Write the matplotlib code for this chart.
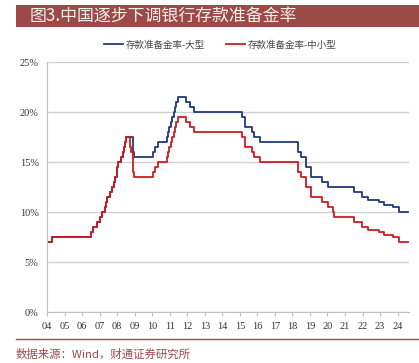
import matplotlib
matplotlib.use("Agg")
import numpy as np
from matplotlib import pyplot as plt
from matplotlib.patches import Rectangle
from matplotlib.lines import Line2D

# adjustment dates (decimal years) and ratios after each change, %
large_dates = [2004.0, 2004.31, 2006.51, 2006.62, 2006.87, 2007.04, 2007.15, 2007.29, 2007.37,
               2007.43, 2007.62, 2007.73, 2007.81, 2007.90, 2007.98, 2008.07, 2008.23, 2008.31,
               2008.38, 2008.45, 2008.48, 2008.79, 2008.93, 2008.98, 2010.05, 2010.15, 2010.36,
               2010.87, 2010.91, 2010.97, 2011.05, 2011.15, 2011.23, 2011.30, 2011.38, 2011.47,
               2011.93, 2012.15, 2012.38, 2015.10, 2015.30, 2015.68, 2015.81, 2016.16, 2018.31,
               2018.51, 2018.79, 2019.04, 2019.07, 2019.71, 2020.01, 2021.54, 2021.95, 2022.31,
               2022.93, 2023.24, 2023.71, 2024.10, 2024.62]
large_rrr = [7.0, 7.5, 8.0, 8.5, 9.0, 9.5, 10.0, 10.5, 11.0,
             11.5, 12.0, 12.5, 13.0, 13.5, 14.5, 15.0, 15.5, 16.0,
             16.5, 17.0, 17.5, 17.5, 16.0, 15.5, 16.0, 16.5, 17.0,
             17.5, 18.0, 18.5, 19.0, 19.5, 20.0, 20.5, 21.0, 21.5,
             21.0, 20.5, 20.0, 19.5, 18.5, 18.0, 17.5, 17.0, 16.0,
             15.5, 14.5, 14.0, 13.5, 13.0, 12.5, 12.0, 11.5, 11.25,
             11.0, 10.75, 10.5, 10.0, 10.0]

small_dates = [2004.0, 2004.31, 2006.51, 2006.62, 2006.87, 2007.04, 2007.15, 2007.29, 2007.37,
               2007.43, 2007.62, 2007.73, 2007.81, 2007.90, 2007.98, 2008.07, 2008.23, 2008.31,
               2008.38, 2008.45, 2008.48, 2008.73, 2008.79, 2008.93, 2008.98, 2010.05, 2010.15,
               2010.36, 2010.87, 2010.91, 2010.97, 2011.05, 2011.15, 2011.23, 2011.30, 2011.38,
               2011.47, 2011.93, 2012.15, 2012.38, 2015.10, 2015.30, 2015.68, 2015.81, 2016.16,
               2018.31, 2018.51, 2018.79, 2019.04, 2019.07, 2019.71, 2020.01, 2020.29, 2020.37,
               2021.54, 2021.95, 2022.31, 2022.93, 2023.24, 2023.71, 2024.10, 2024.62]
small_rrr = [7.0, 7.5, 8.0, 8.5, 9.0, 9.5, 10.0, 10.5, 11.0,
             11.5, 12.0, 12.5, 13.0, 13.5, 14.5, 15.0, 15.5, 16.0,
             16.5, 17.0, 17.5, 16.5, 16.0, 14.0, 13.5, 14.0, 14.5,
             15.0, 15.5, 16.0, 16.5, 17.0, 17.5, 18.0, 18.5, 19.0,
             19.5, 19.0, 18.5, 18.0, 17.5, 16.5, 16.0, 15.5, 15.0,
             14.0, 13.5, 12.5, 12.0, 11.5, 11.0, 10.5, 10.0, 9.5,
             9.0, 8.5, 8.25, 8.0, 7.75, 7.5, 7.0, 7.0]

years = list(range(2004, 2025))
year_labels = ["%02d" % (y % 100) for y in years]
series_names = ["存款准备金率-大型", "存款准备金率-中小型"]
title = "图3.中国逐步下调银行存款准备金率"
source = "数据来源：Wind，财通证券研究所"

cjk = ["Noto Sans CJK SC", "DejaVu Sans"]
serif = ["Liberation Serif", "DejaVu Serif"]
brown = "#9b4a47"
blue = "#1f3a7c"
red = "#d11a1f"

fig = plt.figure(figsize=(4.19, 3.63), dpi=100)

# title bar
fig.patches.append(Rectangle((16 / 419, 1 - 27 / 363), 1 - 16 / 419, 22 / 363,
                             transform=fig.transFigure, facecolor=brown, edgecolor="none"))
fig.text(30 / 419, 1 - 16 / 363, title, color="#f4eeee", fontsize=12.2, va="center",
         family=cjk)

ax = fig.add_axes([47 / 419, 1 - 312 / 363, 362 / 419, 250 / 363])
ax.step(large_dates, large_rrr, where="post", color=blue, lw=1.3)
ax.step(small_dates, small_rrr, where="post", color=red, lw=1.3)

ax.set_xlim(2004, 2024.65)
ax.set_ylim(0, 25)
ax.set_yticks(np.arange(0, 26, 5))
ax.set_yticklabels(["%d%%" % v for v in range(0, 26, 5)], family=serif, fontsize=7.5,
                   color="#333333")
ax.set_xticks(years)
ax.set_xticklabels(year_labels, family=serif, fontsize=7.5, color="#333333")
ax.grid(axis="y", color="#d0d0d0", lw=1)
ax.set_axisbelow(True)
for s in ["top", "right"]:
    ax.spines[s].set_visible(False)
for s in ["left", "bottom"]:
    ax.spines[s].set_color("#bfbfbf")
ax.tick_params(axis="y", length=0, pad=6)
ax.tick_params(axis="x", length=3, color="#bfbfbf", pad=4)

handles = [Line2D([], [], color=blue, lw=1.3), Line2D([], [], color=red, lw=1.3)]
fig.legend(handles, series_names, loc="center", bbox_to_anchor=(0.525, 1 - 45 / 363),
           ncol=2, frameon=False, prop={"family": cjk, "size": 6.8},
           handlelength=2.0, columnspacing=2.2, handletextpad=0.3, labelcolor="#444444")

# source line
fig.add_artist(Line2D([16 / 419, 1], [1 - 339 / 363, 1 - 339 / 363],
                      transform=fig.transFigure, color=brown, lw=1))
fig.text(16 / 419, 1 - 354 / 363, source, color=brown, fontsize=8.2, va="center",
         family=["Noto Sans CJK SC", "Liberation Serif"])

fig.savefig("out.png", dpi=100)
